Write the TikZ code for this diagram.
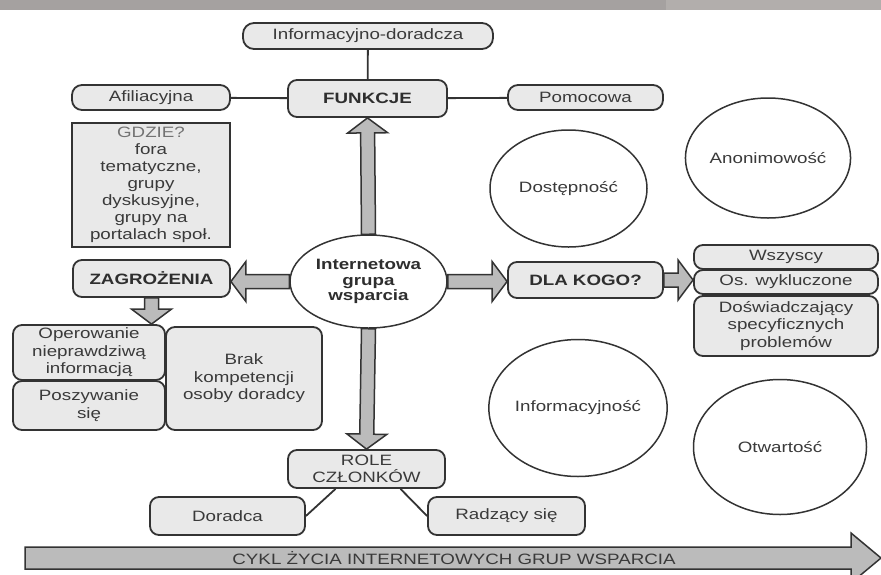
\documentclass[tikz,border=0pt]{standalone}
\usepackage{fontspec}
\setmainfont{Liberation Sans}[FakeStretch=1.25]
\usetikzlibrary{calc}
\usetikzlibrary{shapes.geometric}

\definecolor{boxfill}{HTML}{E9E9E9}
\definecolor{arrfill}{HTML}{BBBBBB}
\definecolor{edge}{HTML}{333333}
\definecolor{ink}{HTML}{3A3A3A}
\definecolor{bandl}{HTML}{A5A1A0}
\definecolor{bandr}{HTML}{B2AEAC}

\newcommand{\figfont}{\fontsize{15}{17.5}\selectfont}
% thick outlined arrow between two points
\newcommand{\fatarrow}[2]{%
  \coordinate (fa-h) at ($(#2)!15pt!(#1)$);
  \draw[fatarr] ($(#1)!7pt!90:(#2)$) -- ($(fa-h)!7pt!-90:(#1)$) -- ($(fa-h)!20pt!-90:(#1)$)
    -- (#2) -- ($(fa-h)!20pt!90:(#1)$) -- ($(fa-h)!7pt!90:(#1)$) -- ($(#1)!7pt!-90:(#2)$) -- cycle;}

\begin{document}
\begin{tikzpicture}[x=1pt, y=-1pt,
    every node/.style={font=\figfont, text=ink},
    box/.style={draw=edge, line width=1.8pt, fill=boxfill, rounded corners=9pt,
                inner sep=0pt, align=center},
    strong/.style={font=\figfont\bfseries, text=black!82},
    bubble/.style={ellipse, draw=edge, line width=1.5pt, fill=white, inner sep=0pt},
    link/.style={draw=edge, line width=1.8pt},
    fatarr/.style={draw=edge, line width=1.5pt, fill=arrfill, line join=miter}]
  \useasboundingbox (0,0) rectangle (881,574);

  % Header band
  \fill[bandl] (0,0) rectangle (666,10);
  \fill[bandr] (666,0) rectangle (881,10);

  % Functions
  \node[box, rounded corners=11pt, minimum width=250pt, minimum height=26pt] (info) at (368,36) {Informacyjno-doradcza};
  \node[box, strong, minimum width=159pt, minimum height=37pt] (fun) at (367.5,98.5) {FUNKCJE};
  \node[box, minimum width=158pt, minimum height=25pt, rounded corners=10pt] (afil) at (151,97.5) {Afiliacyjna};
  \node[box, minimum width=155pt, minimum height=25pt, rounded corners=10pt] (pomoc) at (585.5,97.5) {Pomocowa};
  \draw[link] (info) -- (fun);
  \draw[link] (afil) -- (fun);
  \draw[link] (fun) -- (pomoc);

  % Where
  \node[box, rounded corners=0pt, minimum width=158pt, minimum height=124pt,
        font=\fontsize{15}{17}\selectfont] (gdzie) at (151,185)
    {\textcolor{black!55}{GDZIE?}\\fora\\tematyczne,\\grupy\\dyskusyjne,\\grupy na\\portalach społ.};

  % Centre
  \node[bubble, strong, align=center, minimum width=157pt, minimum height=93pt,
        font=\fontsize{15}{15.5}\selectfont\bfseries] (cen) at (368.5,281.5)
    {Internetowa\\grupa\\wsparcia};

  % Threats
  \node[box, strong, minimum width=157pt, minimum height=37pt] (zagr) at (151.5,278.5) {ZAGROŻENIA};
  \node[box, minimum width=152pt, minimum height=55pt] (oper) at (89,352.5) {Operowanie\\nieprawdziwą\\informacją};
  \node[box, minimum width=152pt, minimum height=49pt] (posz) at (89,405.5) {Poszywanie\\się};
  \node[box, minimum width=156pt, minimum height=103pt] (brak) at (244,378.5) {Brak\\kompetencji\\osoby doradcy};

  % For whom
  \node[box, strong, minimum width=155pt, minimum height=36pt] (dla) at (585.5,280) {DLA KOGO?};
  \node[box, minimum width=184pt, minimum height=24pt] (wsz) at (786,257) {Wszyscy};
  \node[box, minimum width=184pt, minimum height=24pt] (osw) at (786,282) {Os. wykluczone};
  \node[box, minimum width=184pt, minimum height=60pt] (dosw) at (786,326) {Doświadczający\\specyficznych\\problemów};

  % Member roles
  \node[box, minimum width=157pt, minimum height=38pt, font=\fontsize{15}{16.5}\selectfont] (role) at (366.5,469) {ROLE\\CZŁONKÓW};
  \node[box, minimum width=155pt, minimum height=38pt] (dor) at (227.5,516) {Doradca};
  \node[box, minimum width=157pt, minimum height=38pt] (rad) at (506.5,516) {Radzący się};
  \draw[link] ([xshift=-31pt]role.south) -- (dor.east);
  \draw[link] ([xshift=34pt]role.south) -- (rad.west);

  % Features
  \node[bubble, minimum width=157pt, minimum height=117pt] (dost) at (568.5,188.5) {Dostępność};
  \node[bubble, minimum width=149pt, minimum height=120pt] (anon) at (768,158) {Anonimowość};
  \node[bubble, minimum width=170pt, minimum height=137pt] (infc) at (578,408) {Informacyjność};
  \node[bubble, minimum width=173pt, minimum height=135pt] (otw) at (780,447) {Otwartość};

  % Block arrows
  \coordinate (zl) at (zagr.east |- cen.west);
  \coordinate (dl) at (dla.west |- cen.east);
  \coordinate (wl) at (osw.west |- dla.east);
  \coordinate (ot) at (zagr.south |- oper.north);
  \fatarrow{cen.north}{fun.south}
  \fatarrow{cen.south}{role.north}
  \fatarrow{cen.west}{zl}
  \fatarrow{cen.east}{dl}
  \fatarrow{dla.east}{wl}
  \fatarrow{zagr.south}{ot}

  % Life cycle
  \draw[fatarr] (25,547) -- (851,547) -- (851,533) -- (881,558) -- (851,583) -- (851,569) -- (25,569) -- cycle;
  \node (cykl) at (454,558) {CYKL ŻYCIA INTERNETOWYCH GRUP WSPARCIA};
\end{tikzpicture}
\end{document}
